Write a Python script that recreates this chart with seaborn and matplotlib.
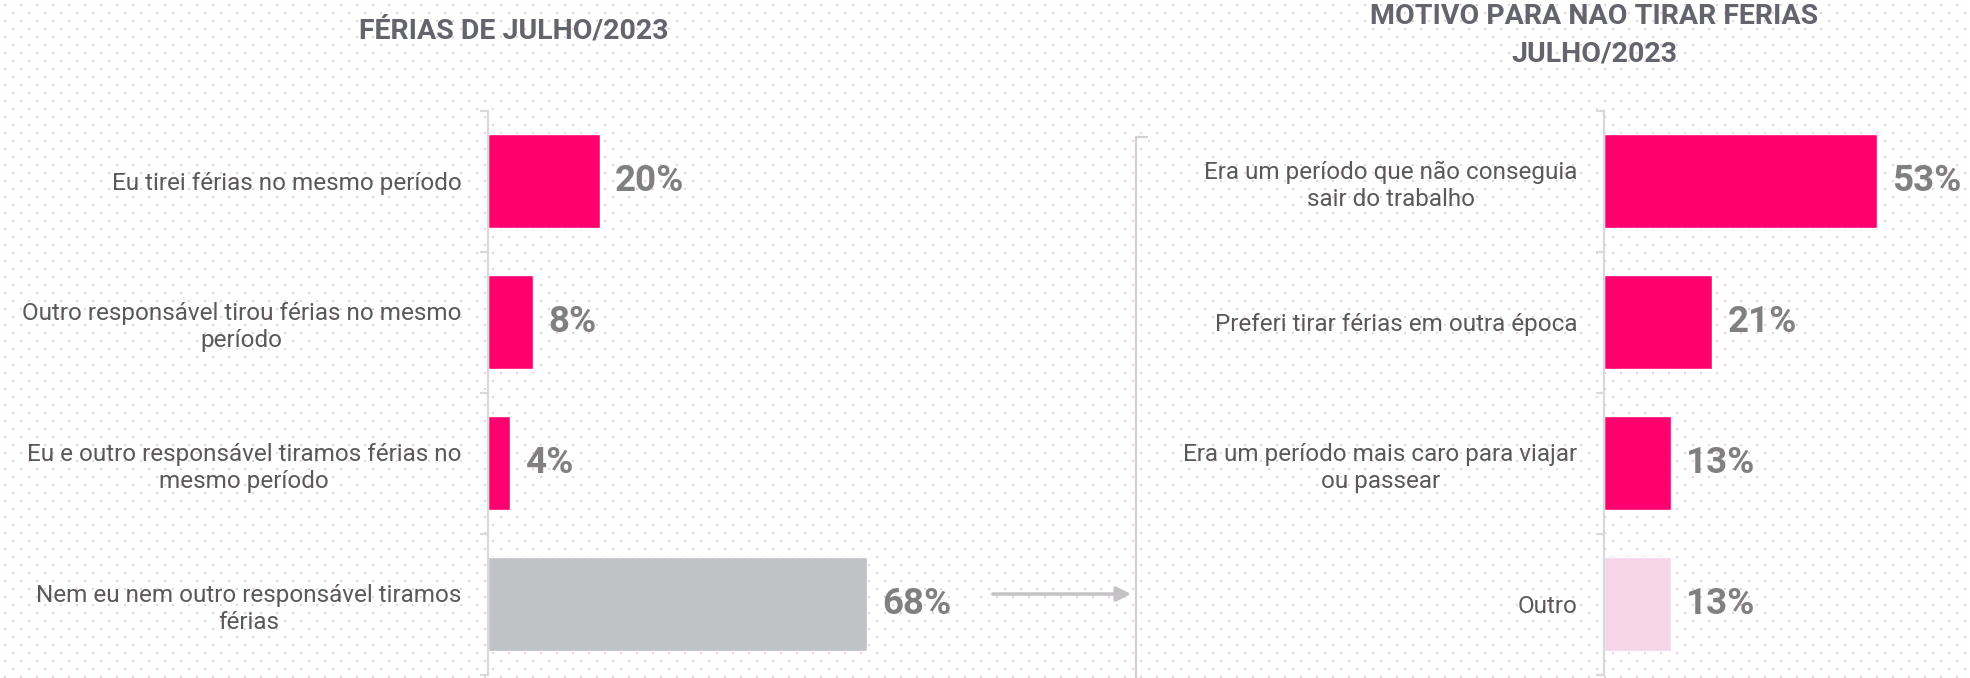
import numpy as np
import pandas as pd
import seaborn as sns
import matplotlib.pyplot as plt
from matplotlib.lines import Line2D
from matplotlib.patches import FancyArrowPatch

# Data - left chart (ferias de julho)
ferias_labels = [
    "Eu tirei férias no mesmo período",
    "Outro responsável tirou férias no mesmo\nperíodo",
    "Eu e outro responsável tiramos férias no\nmesmo período",
    "Nem eu nem outro responsável tiramos\nférias",
]
ferias_values = [20, 8, 4, 68]
ferias_colors = ["#ff006e", "#ff006e", "#ff006e", "#c1c2c6"]

# Data - right chart (motivo)
motivo_labels = [
    "Era um período que não conseguia\nsair do trabalho",
    "Preferi tirar férias em outra época",
    "Era um período mais caro para viajar\nou passear",
    "Outro",
]
motivo_values = [53, 21, 13, 13]
motivo_colors = ["#ff006e", "#ff006e", "#ff006e", "#f7d5e8"]

W, H = 1970, 678
sns.set_style("white")
plt.rcParams['font.family'] = ['Roboto', 'DejaVu Sans']

fig = plt.figure(figsize=(W / 100, H / 100), dpi=100)

# dotted pink background
bg = fig.add_axes([0, 0, 1, 1], zorder=-1)
bg.set_xlim(0, W)
bg.set_ylim(H, 0)
bg.axis("off")
gx, gy = np.meshgrid(np.arange(4.7, W, 8), np.arange(4.7, H, 8))
ix, iy = np.meshgrid(np.arange(gx.shape[1]), np.arange(gx.shape[0]))
keep = (ix + iy) % 2 == 0
bg.scatter(gx[keep], gy[keep], s=2.4, marker="s", color="#f7c9de", linewidths=0)


def draw_panel(rect, labels, values, colors, xmax):
    ax = fig.add_axes(rect)
    df = pd.DataFrame({"label": labels, "value": values})
    sns.barplot(data=df, x="value", y="label", hue="label", palette=colors,
                width=0.667, orient="h", legend=False, ax=ax, saturation=1)
    ax.patch.set_visible(False)
    ax.set_xlim(0, xmax)
    ax.set_ylim(3.5, -0.5)
    ax.set_xlabel("")
    ax.set_ylabel("")
    ax.set_xticks([])
    for side in ["top", "right", "bottom"]:
        ax.spines[side].set_visible(False)
    ax.spines["left"].set_color("#d9d9d9")
    ax.spines["left"].set_linewidth(1.6)
    # ticks at category boundaries
    ax.set_yticks(np.arange(-0.5, 4), minor=True)
    ax.tick_params(axis="y", which="minor", length=6, width=1.6, color="#d9d9d9", left=True)
    ax.tick_params(axis="y", which="major", length=0, pad=19, labelsize=17.5, labelcolor="#595959")
    for t in ax.get_yticklabels():
        t.set_multialignment("center")
        t.set_linespacing(1.25)
    for c in ax.containers:
        ax.bar_label(c, fmt="%g%%", padding=11, fontsize=26.5, fontweight="bold", color="#808080")
    return ax


ax1 = draw_panel([488 / W, 3.3 / H, 413 / W, 564 / H], ferias_labels, ferias_values, ferias_colors, 413 / 5.58)
ax2 = draw_panel([1604 / W, 3.3 / H, 356 / W, 564 / H], motivo_labels, motivo_values, motivo_colors, 356 / 5.15)

# titles
fig.text(514 / W, 1 - 31 / H, "FÉRIAS DE JULHO/2023", ha="center", va="center",
         fontsize=20.5, fontweight="bold", color="#63646c")
fig.text(1594 / W, 1 - 35 / H, "MOTIVO PARA NAO TIRAR FERIAS\nJULHO/2023", ha="center", va="center",
         fontsize=20.5, fontweight="bold", color="#63646c", linespacing=1.5)

# arrow from "nem eu nem outro" to the reasons
fig.add_artist(FancyArrowPatch(
    (990 / W, 1 - 594 / H), (1134 / W, 1 - 594 / H), transform=fig.transFigure,
    arrowstyle="-|>", mutation_scale=22, color="#c3c3c6", lw=2.5))

# bracket
fig.add_artist(Line2D([1147 / W, 1136 / W, 1136 / W], [1 - 137 / H, 1 - 137 / H, 0],
                      transform=fig.transFigure, color="#d0d0d0", lw=1.6))

fig.savefig("out.png", dpi=100)
